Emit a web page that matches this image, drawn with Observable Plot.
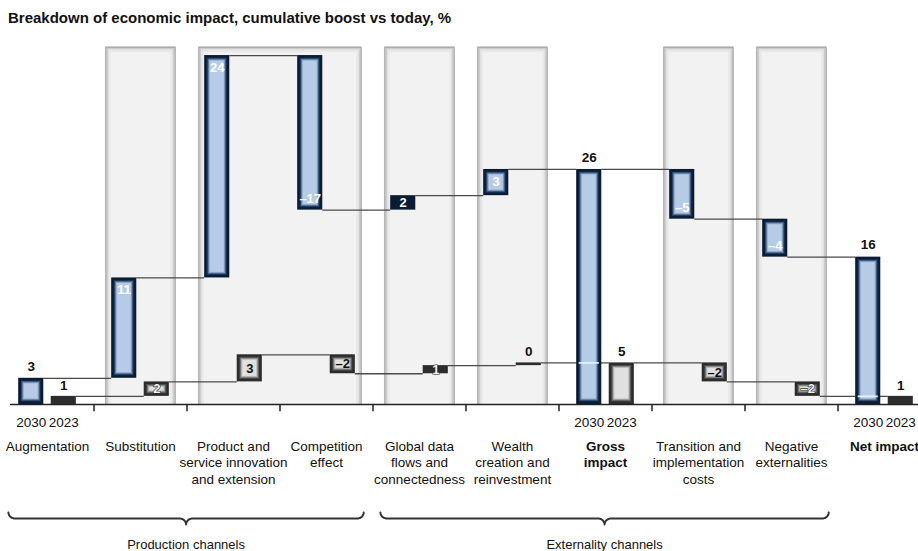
<!DOCTYPE html>
<html><head><meta charset="utf-8">
<script src="https://cdn.jsdelivr.net/npm/d3@7"></script>
<script src="https://cdn.jsdelivr.net/npm/@observablehq/plot@0.6"></script>
<style>
body{margin:0;background:#fff;font-family:"Liberation Sans",Arial,sans-serif;}
#title{height:34px;box-sizing:border-box;padding:9px 0 0 8px;font-size:15px;font-weight:bold;color:#111;line-height:17px;white-space:nowrap;}
#chart svg{display:block;}
</style></head><body>
<div id="title">Breakdown of economic impact, cumulative boost vs today, %</div>
<div id="chart"></div>
<script>
const categories = ["Augmentation","Substitution","Product and\nservice innovation\nand extension","Competition\neffect","Global data\nflows and\nconnectedness","Wealth\ncreation and\nreinvestment","Gross\nimpact","Transition and\nimplementation\ncosts","Negative\nexternalities","Net impact"];
const kinds = ["base","delta","delta","delta","delta","delta","total","delta","delta","total"];
const values2030 = [2.9, 11.1, 24.6, -17.1, 1.6, 2.9, 26.0, -5.5, -4.2, 16.3];
const values2023 = [0.9, 1.6, 3.0, -2.1, 0.9, 0.3, 4.6, -2.1, -1.6, 0.9];
const labels2030 = ["3","11","24","–17","2","3","26","–5","–4","16"];
const labels2023 = ["1","2","3","–2","1","0","5","–2","–2","1"];
const years = ["2030","2023"];
const groups = ["Production channels","Externality channels"];
const groupStart = [0,4];
const groupEnd = [3,8];
const bandStart = [1,2,4,5,7,8];
const bandEnd = [1,3,4,5,7,8];

const W = 918, H = 517;
const K = 9.04;        // px per y unit
const KX = 93;         // px per x unit
const AXIS = 370;      // svg y of zero
const BAND_TOP = 39.6;

function waterfall(values, labels, side) {
  let cum = 0;
  return values.map((v, i) => {
    let start, end;
    if (kinds[i] === "delta") { start = cum; end = cum + v; } else { start = 0; end = v; }
    cum = end;
    return {i, v, start, end, lo: Math.min(start, end), hi: Math.max(start, end),
      label: labels[i], kind: kinds[i], year: years[side],
      x1: side === 0 ? i - 0.31 : i + 0.04, x2: side === 0 ? i - 0.04 : i + 0.31};
  });
}
const b30 = waterfall(values2030, labels2030, 0);
const b23 = waterfall(values2023, labels2023, 1);
const conn = (bars) => bars.slice(0, -1).map((b, k) => ({y: b.end, x1: b.x2, x2: bars[k + 1].x1}));
const c30 = conn(b30), c23 = conn(b23);
const stripes = b30.filter(b => b.kind === "total").map(b => ({y: b23[b.i - 1].end, x1: b.x1, x2: b.x2}));
const bands = bandStart.map((s, k) => ({x1: s - 0.38, x2: bandEnd[k] + 0.38}));
const tickPos = categories.slice(0, -1).map((_, i) => i + 0.5);
const yearLabels = b30.concat(b23).filter(b => b.kind !== "delta");

// soft glow layers (inset px, colour)
const glow30 = [[2.5, "#1a3354"], [3.5, "#4c6790"], [4.5, "#8aa5c9"], [5.5, "#b6cbe6"]];
const glow23 = [[2.5, "#4a4a4a"], [3.5, "#808080"], [4.5, "#bbbbbb"], [5.5, "#e0e0e0"]];
const edgeLayers = [[0.8, "#ababab", 1.6], [2.2, "#cdcdcd", 1.4], [3.6, "#e0e0e0", 1.4], [5, "#eaeaea", 1.4]];

function bandEdgePts(o) {
  const ox = o / KX, oy = o / K;
  return bands.flatMap((b, k) => [
    {z: k, x: b.x1 + ox, y: 0}, {z: k, x: b.x1 + ox, y: BAND_TOP - oy},
    {z: k, x: b.x2 - ox, y: BAND_TOP - oy}, {z: k, x: b.x2 - ox, y: 0}]);
}

const yEnd = -11.95, yMid = -12.61, yTip = -13.27, r = 0.07;
function brace(x1, x2, z) {
  const c = (x1 + x2) / 2, pts = [], N = 8;
  for (let t = 0; t <= N; t++) { const a = t / N * Math.PI / 2; pts.push({z, x: x1 + r * (1 - Math.cos(a)), y: yEnd + (yMid - yEnd) * Math.sin(a)}); }
  for (let t = 0; t <= N; t++) { const a = t / N * Math.PI / 2; pts.push({z, x: c - r + r * Math.sin(a), y: yMid + (yTip - yMid) * (1 - Math.cos(a))}); }
  for (let t = N; t >= 0; t--) { const a = t / N * Math.PI / 2; pts.push({z, x: c + r - r * Math.sin(a), y: yMid + (yTip - yMid) * (1 - Math.cos(a))}); }
  for (let t = N; t >= 0; t--) { const a = t / N * Math.PI / 2; pts.push({z, x: x2 - r * (1 - Math.cos(a)), y: yEnd + (yMid - yEnd) * Math.sin(a)}); }
  return pts;
}
const groupData = groups.map((g, k) => ({name: g, x1: groupStart[k] - 0.42, x2: groupEnd[k] + 0.4}));
const bracePts = groupData.flatMap((g, k) => brace(g.x1, g.x2, k));

const glowMarks = (bars, layers, minV) => layers.map(([inset, color]) =>
  Plot.rect(bars.filter(b => Math.abs(b.v) >= minV && Math.abs(b.v) * K > 2 * inset + 2), {x1: "x1", x2: "x2", y1: "lo", y2: "hi", fill: color, inset}));

const mid = b => (b.x1 + b.x2) / 2;
const chart = Plot.plot({
  width: W, height: H,
  marginLeft: 10, marginRight: 0, marginTop: 0, marginBottom: H - AXIS,
  style: {fontFamily: "Liberation Sans, Arial, sans-serif", background: "#fff"},
  x: {type: "linear", domain: [-47 / KX, (W - 47) / KX], range: [0, W], axis: null},
  y: {type: "linear", domain: [0, 40], range: [AXIS, AXIS - 40 * K], axis: null},
  marks: [
    Plot.rect(bands, {x1: "x1", x2: "x2", y1: 0, y2: BAND_TOP, fill: "#f2f2f2"}),
    ...edgeLayers.map(([o, color, w]) => Plot.line(bandEdgePts(o), {x: "x", y: "y", z: "z", stroke: color, strokeWidth: w})),
    Plot.ruleY([0], {stroke: "#222", strokeWidth: 1.6}),
    Plot.ruleX(tickPos, {x: d => d, y1: 0, y2: -0.8, stroke: "#222", strokeWidth: 1.5}),
    Plot.ruleY(c23, {y: "y", x1: "x1", x2: "x2", stroke: "#4a4a4a", strokeWidth: 1.3}),
    Plot.ruleY(c30, {y: "y", x1: "x1", x2: "x2", stroke: "#4a4a4a", strokeWidth: 1.3}),
    Plot.rect(b23, {x1: "x1", x2: "x2", y1: "lo", y2: "hi", fill: "#2c2c2c"}),
    ...glowMarks(b23, glow23, 1.5),
    Plot.rect(b30, {x1: "x1", x2: "x2", y1: "lo", y2: "hi", fill: "#0a1c33"}),
    ...glowMarks(b30, glow30, 2.5),
    Plot.ruleY(stripes, {y: "y", x1: "x1", x2: "x2", stroke: "#e6eef8", strokeWidth: 1.8, insetLeft: 2.5, insetRight: 2.5}),
    // value labels 2030
    Plot.text(b30.filter(b => b.kind !== "delta"), {x: mid, y: "hi", dy: -12, text: "label", fill: "#111", fontSize: 13.5, fontWeight: "bold"}),
    Plot.text(b30.filter(b => b.kind === "delta" && b.v >= 2.5), {x: mid, y: "hi", dy: 12, text: "label", fill: "#fff", fontSize: 13, fontWeight: "bold"}),
    Plot.text(b30.filter(b => b.kind === "delta" && b.v <= -2.5), {x: mid, y: "lo", dy: -11, text: "label", fill: "#fff", fontSize: 13, fontWeight: "bold"}),
    Plot.text(b30.filter(b => b.kind === "delta" && Math.abs(b.v) < 2.5), {x: mid, y: b => (b.lo + b.hi) / 2, text: "label", fill: "#fff", fontSize: 13, fontWeight: "bold"}),
    // value labels 2023
    Plot.text(b23.filter(b => b.kind !== "delta" || Math.abs(b.v) < 0.5), {x: mid, y: "hi", dy: -11, text: "label", fill: "#111", fontSize: 13.5, fontWeight: "bold"}),
    Plot.text(b23.filter(b => b.kind === "delta" && Math.abs(b.v) >= 2), {x: mid, y: b => (b.lo + b.hi) / 2, text: "label", fill: "#111", fontSize: 13, fontWeight: "bold"}),
    Plot.text(b23.filter(b => b.kind === "delta" && Math.abs(b.v) >= 0.5 && Math.abs(b.v) < 2), {x: mid, y: b => (b.lo + b.hi) / 2, text: "label", fill: "#f2f2f2", stroke: "#222", strokeWidth: 1.2, fontSize: 13, fontWeight: "bold"}),
    // year labels
    Plot.text(yearLabels, {x: mid, y: 0, dy: 18, text: "year", fill: "#111", fontSize: 13.5}),
    // category labels
    Plot.text(categories.map((c, i) => ({c, i})).filter(d => kinds[d.i] !== "total"), {x: "i", y: 0, dy: 35.5, text: "c", lineAnchor: "top", lineHeight: 1.19, fill: "#111", fontSize: 13.5}),
    Plot.text(categories.map((c, i) => ({c, i})).filter(d => kinds[d.i] === "total"), {x: "i", y: 0, dy: 35.5, text: "c", lineAnchor: "top", lineHeight: 1.19, fill: "#111", fontSize: 13.5, fontWeight: "bold"}),
    // braces
    Plot.line(bracePts, {x: "x", y: "y", z: "z", stroke: "#333", strokeWidth: 2}),
    Plot.text(groupData, {x: g => (g.x1 + g.x2) / 2, y: 0, dy: 140, text: "name", fill: "#111", fontSize: 13})
  ]
});
document.getElementById("chart").appendChild(chart);
</script>
</body></html>
